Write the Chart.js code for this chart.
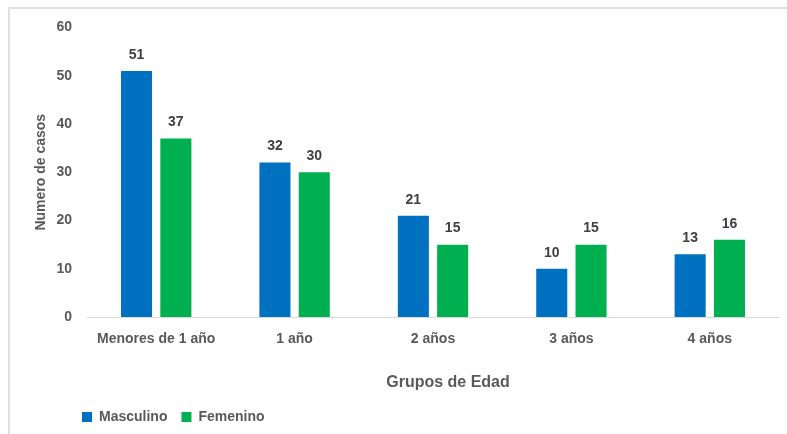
<!DOCTYPE html>
<html>
<head>
<meta charset="utf-8">
<script src="https://cdn.jsdelivr.net/npm/chart.js@4.4.1/dist/chart.umd.min.js"></script>
<style>
  html, body { margin: 0; padding: 0; background: #ffffff; }
  #wrap { position: relative; width: 787px; height: 434px; overflow: hidden; }
  #frame { position: absolute; left: 8px; top: 7px; width: 800px; height: 450px;
           border-top: 2px solid #e0e0e0; border-left: 2px solid #e0e0e0; box-sizing: border-box; }
  canvas { position: absolute; left: 0; top: 0; }
</style>
</head>
<body>
<div id="wrap">
  <div id="frame"></div>
  <canvas id="c" width="787" height="434"></canvas>
</div>
<script>
const categories = ["Menores de 1 año", "1 año", "2 años", "3 años", "4 años"];
const masculino = [51, 32, 21, 10, 13];
const femenino = [37, 30, 15, 15, 16];
const seriesNames = ["Masculino", "Femenino"];
const yTitle = "Numero de casos";
const xTitle = "Grupos de Edad";

const SANS = '"Liberation Sans", Arial, sans-serif';
const TEXT = '#595959';

const valueLabels = {
  id: 'valueLabels',
  afterDatasetsDraw(chart) {
    const ctx = chart.ctx;
    ctx.save();
    ctx.font = 'bold 14px ' + SANS;
    ctx.fillStyle = '#404040';
    ctx.textAlign = 'center';
    ctx.textBaseline = 'middle';
    chart.data.datasets.forEach((ds, i) => {
      const meta = chart.getDatasetMeta(i);
      meta.data.forEach((bar, j) => {
        ctx.fillText(String(ds.data[j]), bar.x, bar.y - 16);
      });
    });
    ctx.restore();
  }
};

const tweaks = {
  id: 'tweaks',
  beforeDraw(chart) {
    if (chart.legend) chart.legend.left = 68;
    const s = chart.scales.x;
    if (s && !s._shifted) {
      const orig = s.drawTitle;
      s.drawTitle = function () {
        this.ctx.save();
        this.ctx.translate(15, 0);
        orig.call(this);
        this.ctx.restore();
      };
      s._shifted = true;
    }
  }
};

new Chart(document.getElementById('c'), {
  type: 'bar',
  data: {
    labels: categories,
    datasets: [
      { label: seriesNames[0], data: masculino, backgroundColor: '#0070C0',
        categoryPercentage: 0.568, barPercentage: 0.79 },
      { label: seriesNames[1], data: femenino, backgroundColor: '#00B050',
        categoryPercentage: 0.568, barPercentage: 0.79 }
    ]
  },
  options: {
    responsive: false,
    animation: false,
    layout: { padding: { left: 0, right: 8, top: 27.5, bottom: 0 } },
    plugins: {
      tooltip: { enabled: false },
      legend: {
        position: 'bottom',
        align: 'start',
        labels: {
          boxWidth: 10, boxHeight: 10, padding: 14,
          color: TEXT,
          font: { family: SANS, size: 14, weight: 'bold' }
        }
      }
    },
    scales: {
      x: {
        grid: { display: false, drawTicks: false },
        border: { display: true, color: '#d9d9d9', width: 1 },
        ticks: { color: TEXT, padding: 14, maxRotation: 0, autoSkip: false,
                 font: { family: SANS, size: 14, weight: 'bold' } },
        title: { display: true, text: xTitle, color: TEXT,
                 padding: { top: 0, bottom: 3.9 },
                 font: { family: SANS, size: 16, weight: 'bold' } },
        afterFit(s) { s.height = 79; }
      },
      y: {
        min: 0, max: 60,
        grid: { display: false, drawTicks: false },
        border: { display: false },
        ticks: { stepSize: 10, color: TEXT, padding: 15,
                 font: { family: SANS, size: 14, weight: 'bold' } },
        title: { display: true, text: yTitle, color: TEXT,
                 padding: { top: 32.6, bottom: 0 },
                 font: { family: SANS, size: 14, weight: 'bold' } },
        afterFit(s) { s.width = 87; }
      }
    }
  },
  plugins: [valueLabels, tweaks]
});
</script>
</body>
</html>
